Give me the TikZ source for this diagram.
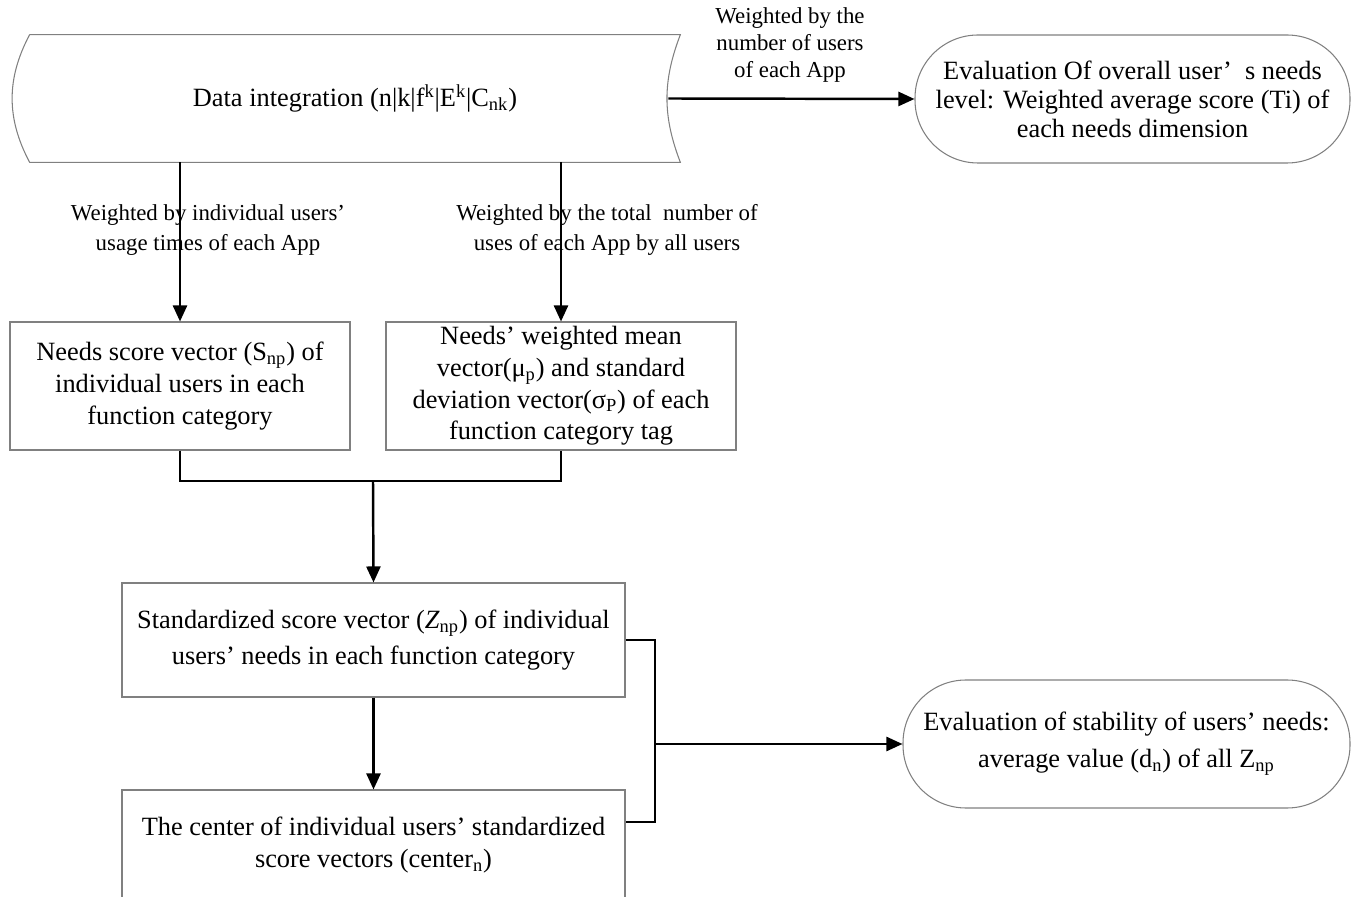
\documentclass[tikz,border=0pt]{standalone}
\usepackage{fontspec}
\setmainfont{Liberation Serif}
\usetikzlibrary{arrows.meta}

\tikzset{
  box/.style={draw=gray, line width=0.6pt, align=center, inner sep=2pt, font=\fontsize{15}{18}\selectfont},
  oval/.style={box, rounded corners=1.26cm},
  lbl/.style={align=center, font=\fontsize{13}{17}\selectfont},
  line/.style={line width=1.4pt},
  arr/.style={line width=1.4pt, -{Triangle[length=3.2mm,width=2.8mm]}}
}

\begin{document}
\begin{tikzpicture}
\useasboundingbox (0,0) rectangle (27.16,17.92);
% data source and overall evaluation
\node (data) [minimum width=13cm, minimum height=2.54cm, font=\fontsize{15}{18}\selectfont] at (7.1,15.95) {Data integration (n|k|f\textsuperscript{k}|E\textsuperscript{k}|C\textsubscript{nk})};
\draw [gray, line width=0.6pt] (data.north west) -- (data.north east) to [bend right=21] (data.south east) -- (data.south west) to [bend left=28] (data.north west);
\node (eval1) [oval, minimum width=8.7cm, minimum height=2.56cm, font=\fontsize{15}{16.5}\selectfont] at (22.65,15.94) {Evaluation Of overall user’\enspace s needs\\level: Weighted average score (Ti) of\\each needs dimension};
\node (lbl3) [lbl, font=\fontsize{13}{15.3}\selectfont] at (15.8,17.02) {Weighted by the\\number of users\\of each App};
\draw [arr] ([xshift=-0.24cm]data.east) -- (eval1.west);
% weighting branches
\node (needs) [box, minimum width=6.8cm, minimum height=2.56cm] at (3.6,10.2) {Needs score vector (S\textsubscript{np}) of\\individual users in each\\function category};
\node (mean) [box, minimum width=7cm, minimum height=2.56cm] at (11.22,10.2) {Needs’ weighted mean\\vector(μ\textsubscript{p}) and standard\\deviation vector(σ\textsubscript{P}) of each\\function category tag};
\node (lbl1) [lbl] at (4.16,13.32) {Weighted by individual users’\\usage times of each App};
\node (lbl2) [lbl] at (12.14,13.32) {Weighted by the total\ \ number of\\uses of each App by all users};
\draw [arr] (data.south -| needs) -- (needs.north);
\draw [arr] (data.south -| mean) -- (mean.north);
% standardisation
\coordinate (mj) at (7.46,8.30);
\draw [line] (needs.south) |- (mj) -| (mean.south);
\node (stdz) [box, minimum width=10.06cm, minimum height=2.28cm, font=\fontsize{15}{20.5}\selectfont] at (7.47,5.12) {Standardized score vector (\textit{Z}\textsubscript{np}) of individual\\users’ needs in each function category};
\draw [arr] (mj) -- (stdz.north);
\node (cent) [box, minimum width=10.06cm, minimum height=2.2cm, font=\fontsize{15}{18.7}\selectfont] at (7.47,1.02) {The center of individual users’ standardized\\score vectors (center\textsubscript{n})};
\draw [arr] (stdz.south) -- (cent.north);
% stability evaluation
\coordinate (sj) at (13.1,3.04);
\node (eval2) [oval, minimum width=8.94cm, minimum height=2.56cm, font=\fontsize{15}{21}\selectfont] at (22.53,3.04) {Evaluation of stability of users’ needs:\\average value (d\textsubscript{n}) of all Z\textsubscript{np}};
\draw [line] (stdz.east) -| (sj) |- ([yshift=0.46cm]cent.east);
\draw [arr] (sj) -- (eval2.west);
\end{tikzpicture}
\end{document}
